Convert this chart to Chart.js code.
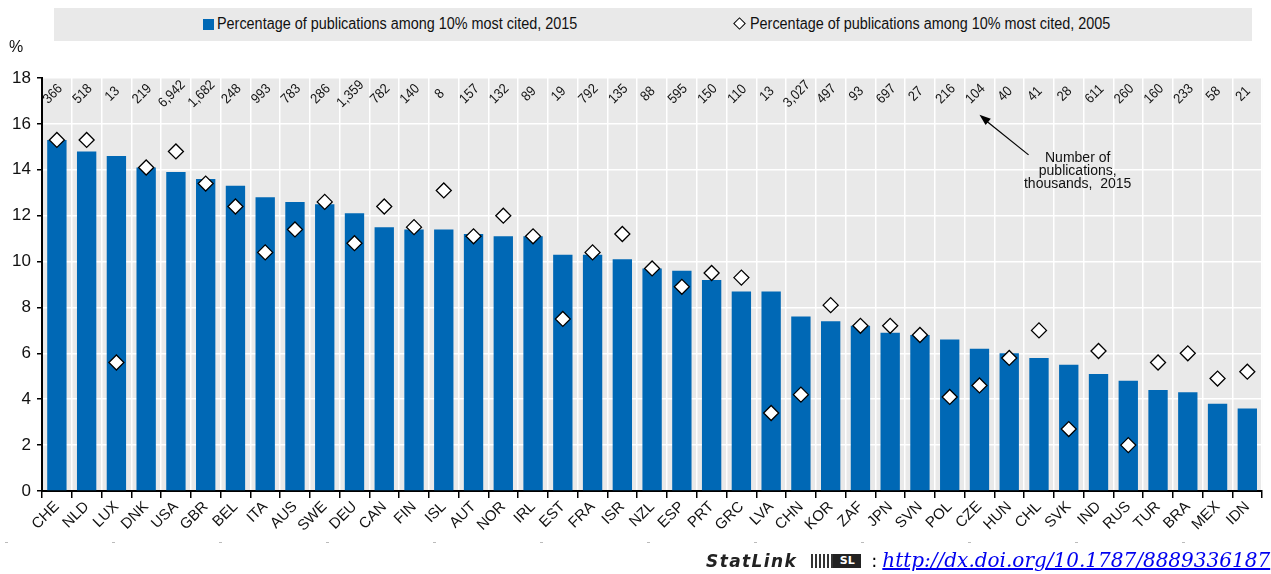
<!DOCTYPE html>
<html>
<head>
<meta charset="utf-8">
<script src="https://cdn.jsdelivr.net/npm/chart.js@4.4.1/dist/chart.umd.min.js"></script>
<style>
  body { margin: 0; width: 1271px; height: 574px; overflow: hidden; background: #fff; position: relative;
         font-family: 'Liberation Sans Narrow', 'Liberation Sans', Arial, sans-serif; }
  #wrap { position: absolute; left: 0; top: 0; width: 1271px; height: 574px; }
  #legend { position: absolute; left: 54px; top: 8px; width: 1198px; height: 33px; background: #e9e9e9; }
  .item { position: absolute; top: 7px; font-size: 16px; color: #111; white-space: nowrap; }
  .item .tx { display: inline-block; transform: scaleX(0.9); transform-origin: left center; }
  .sq { display: inline-block; width: 11px; height: 11px; background: #0068b5; margin-right: 3px; vertical-align: -1px; }
  .dm { display: inline-block; width: 7px; height: 7px; border: 1px solid #000; background: #fff; transform: rotate(45deg);
        margin-right: 6px; margin-left: 2px; vertical-align: 1px; }
  #pct { position: absolute; left: 9px; top: 38px; font-size: 16px; color: #111; }
  #dots { position: absolute; left: 0; top: 542px; width: 1271px; height: 1px;
          background: repeating-linear-gradient(90deg, #bbb 0 3px, transparent 3px 107px); background-position: 5px 0; }
  #stat { position: absolute; left: 706px; top: 548px; white-space: nowrap; }
  #stat .sl { font-family: 'DejaVu Sans', sans-serif; font-style: italic; font-weight: bold; font-size: 17px; color: #222; letter-spacing: 1.4px; }
  #stat .ic { display: inline-block; width: 50px; height: 14px; margin-left: 14px; vertical-align: -1px;
              background: repeating-linear-gradient(90deg, #333 0 2px, transparent 2px 4px); position: relative; }
  #stat .ic span { position: absolute; right: 0; top: 0; width: 28px; height: 14px; background: #222; color: #fff;
                   font: bold 11px 'DejaVu Sans', sans-serif; text-align: center; line-height: 14px; }
  #stat .colon { font-family: 'DejaVu Sans', sans-serif; font-size: 18px; margin-left: 10px; margin-right: 5px; }
  #stat a { font-family: 'DejaVu Serif', serif; font-style: italic; font-size: 20px; color: #0000ee; text-decoration: underline; }
</style>
</head>
<body>
<div id="wrap"><canvas id="myChart" width="1271" height="574"></canvas></div>
<div id="legend">
  <div class="item" style="left:149px"><span class="sq"></span><span class="tx">Percentage of publications among 10% most cited, 2015</span></div>
  <div class="item" style="left:679px"><span class="dm"></span><span class="tx">Percentage of publications among 10% most cited, 2005</span></div>
</div>
<div id="pct">%</div>
<div id="dots"></div>
<div id="stat"><span class="sl">StatLink</span><span class="ic"><span>SL</span></span><span class="colon">:</span><a href="#">http://dx.doi.org/10.1787/8889336187</a></div>
<script>
const countries = ["CHE","NLD","LUX","DNK","USA","GBR","BEL","ITA","AUS","SWE","DEU","CAN","FIN","ISL","AUT","NOR","IRL","EST","FRA","ISR",
  "NZL","ESP","PRT","GRC","LVA","CHN","KOR","ZAF","JPN","SVN","POL","CZE","HUN","CHL","SVK","IND","RUS","TUR","BRA","MEX","IDN"]
const share2015 = [15.3,14.8,14.6,14.1,13.9,13.6,13.3,12.8,12.6,12.5,12.1,11.5,11.4,11.4,11.2,11.1,11.1,10.3,10.3,10.1,
  9.7,9.6,9.2,8.7,8.7,7.6,7.4,7.2,6.9,6.8,6.6,6.2,6.0,5.8,5.5,5.1,4.8,4.4,4.3,3.8,3.6]
const share2005 = [15.3,15.3,5.6,14.1,14.8,13.4,12.4,10.4,11.4,12.6,10.8,12.4,11.5,13.1,11.1,12.0,11.1,7.5,10.4,11.2,
  9.7,8.9,9.5,9.3,3.4,4.2,8.1,7.2,7.2,6.8,4.1,4.6,5.8,7.0,2.7,6.1,2.0,5.6,6.0,4.9,5.2]
const pubs2015 = ["366","518","13","219","6,942","1,682","248","993","783","286","1,359","782","140","8","157","132","89","19","792","135",
  "88","595","150","110","13","3,027","497","93","697","27","216","104","40","41","28","611","260","160","233","58","21"]
const yTicks = [0, 2, 4, 6, 8, 10, 12, 14, 16, 18]
const noteLines = ["Number of", "publications,", "thousands,  2015"]

const narrow = "'Liberation Sans Narrow', 'Liberation Sans', Arial, sans-serif"

// grey plot background, publication counts, arrow note
const extras = {
  id: 'extras',
  beforeDraw(chart) {
    let a = chart.chartArea, c = chart.ctx
    c.save()
    c.fillStyle = '#e9e9e9'
    c.fillRect(a.left, a.top, a.right - a.left, a.bottom - a.top)
    c.restore()
  },
  afterDatasetsDraw(chart) {
    let c = chart.ctx, x = chart.scales.x, y = chart.scales.y
    c.save()
    c.fillStyle = '#111'
    c.font = "14px " + narrow
    c.textAlign = 'center'
    c.textBaseline = 'middle'
    pubs2015.forEach(function(t, i) {
      c.save()
      c.translate(x.getPixelForValue(i) - 4, y.getPixelForValue(17.3))
      c.rotate(-Math.PI / 4)
      c.scale(0.9, 1)
      c.fillText(t, 0, 0)
      c.restore()
    })
    // arrow
    let x1 = x.getPixelForValue(32.65), y1 = y.getPixelForValue(14.65)
    let x2 = x.getPixelForValue(31.0), y2 = y.getPixelForValue(16.4)
    c.strokeStyle = '#000'
    c.lineWidth = 1.2
    c.beginPath(); c.moveTo(x1, y1); c.lineTo(x2 + 6, y2 + 5.5); c.stroke()
    let ang = Math.atan2(y2 - y1, x2 - x1)
    c.beginPath()
    c.moveTo(x2, y2)
    c.lineTo(x2 - 12 * Math.cos(ang - 0.35), y2 - 12 * Math.sin(ang - 0.35))
    c.lineTo(x2 - 12 * Math.cos(ang + 0.35), y2 - 12 * Math.sin(ang + 0.35))
    c.closePath(); c.fillStyle = '#000'; c.fill()
    c.fillStyle = '#111'
    c.font = "14px " + narrow
    noteLines.forEach(function(t, k) {
      c.fillText(t, x.getPixelForValue(34.3), y.getPixelForValue(14.5 - k * 0.56))
    })
    c.restore()
  }
}

var ctx = document.getElementById('myChart').getContext('2d')
var chart = new Chart(ctx, {
  type: 'bar',
  data: {
    labels: countries,
    datasets: [{
      type: 'line',
      label: 'Percentage of publications among 10% most cited, 2005',
      data: share2005,
      showLine: false,
      pointStyle: 'rectRot',
      pointRadius: 7.5,
      pointBackgroundColor: '#fff',
      pointBorderColor: '#000',
      pointBorderWidth: 1.3,
      order: 0
    }, {
      label: 'Percentage of publications among 10% most cited, 2015',
      data: share2015,
      backgroundColor: '#0068b5',
      barPercentage: 0.65,
      categoryPercentage: 1,
      order: 1
    }]
  },
  options: {
    responsive: false,
    animation: false,
    layout: { padding: { top: 78, right: 1, left: 0, bottom: 0 } },
    plugins: { legend: { display: false }, tooltip: { enabled: false } },
    scales: {
      x: {
        offset: true,
        grid: { offset: true, color: '#fff', lineWidth: 1.5, tickColor: '#000', tickLength: 7, drawTicks: true },
        border: { color: '#000', width: 2 },
        ticks: { color: '#111', font: { size: 15, family: "'Liberation Sans', Arial, sans-serif" },
                 maxRotation: 45, minRotation: 45, padding: 0, autoSkip: false },
        afterFit(s) { s.height = 83 }
      },
      y: {
        min: 0, max: 18,
        afterBuildTicks(s) { s.ticks = yTicks.map(function(v) { return { value: v } }) },
        grid: { color: '#fff', lineWidth: 1.5, tickColor: '#000', tickLength: 5 },
        border: { color: '#000', width: 2 },
        ticks: { color: '#111', font: { size: 17, family: narrow }, padding: 6 },
        afterFit(s) { s.width = 42 }
      }
    }
  },
  plugins: [extras]
})
</script>
</body>
</html>
